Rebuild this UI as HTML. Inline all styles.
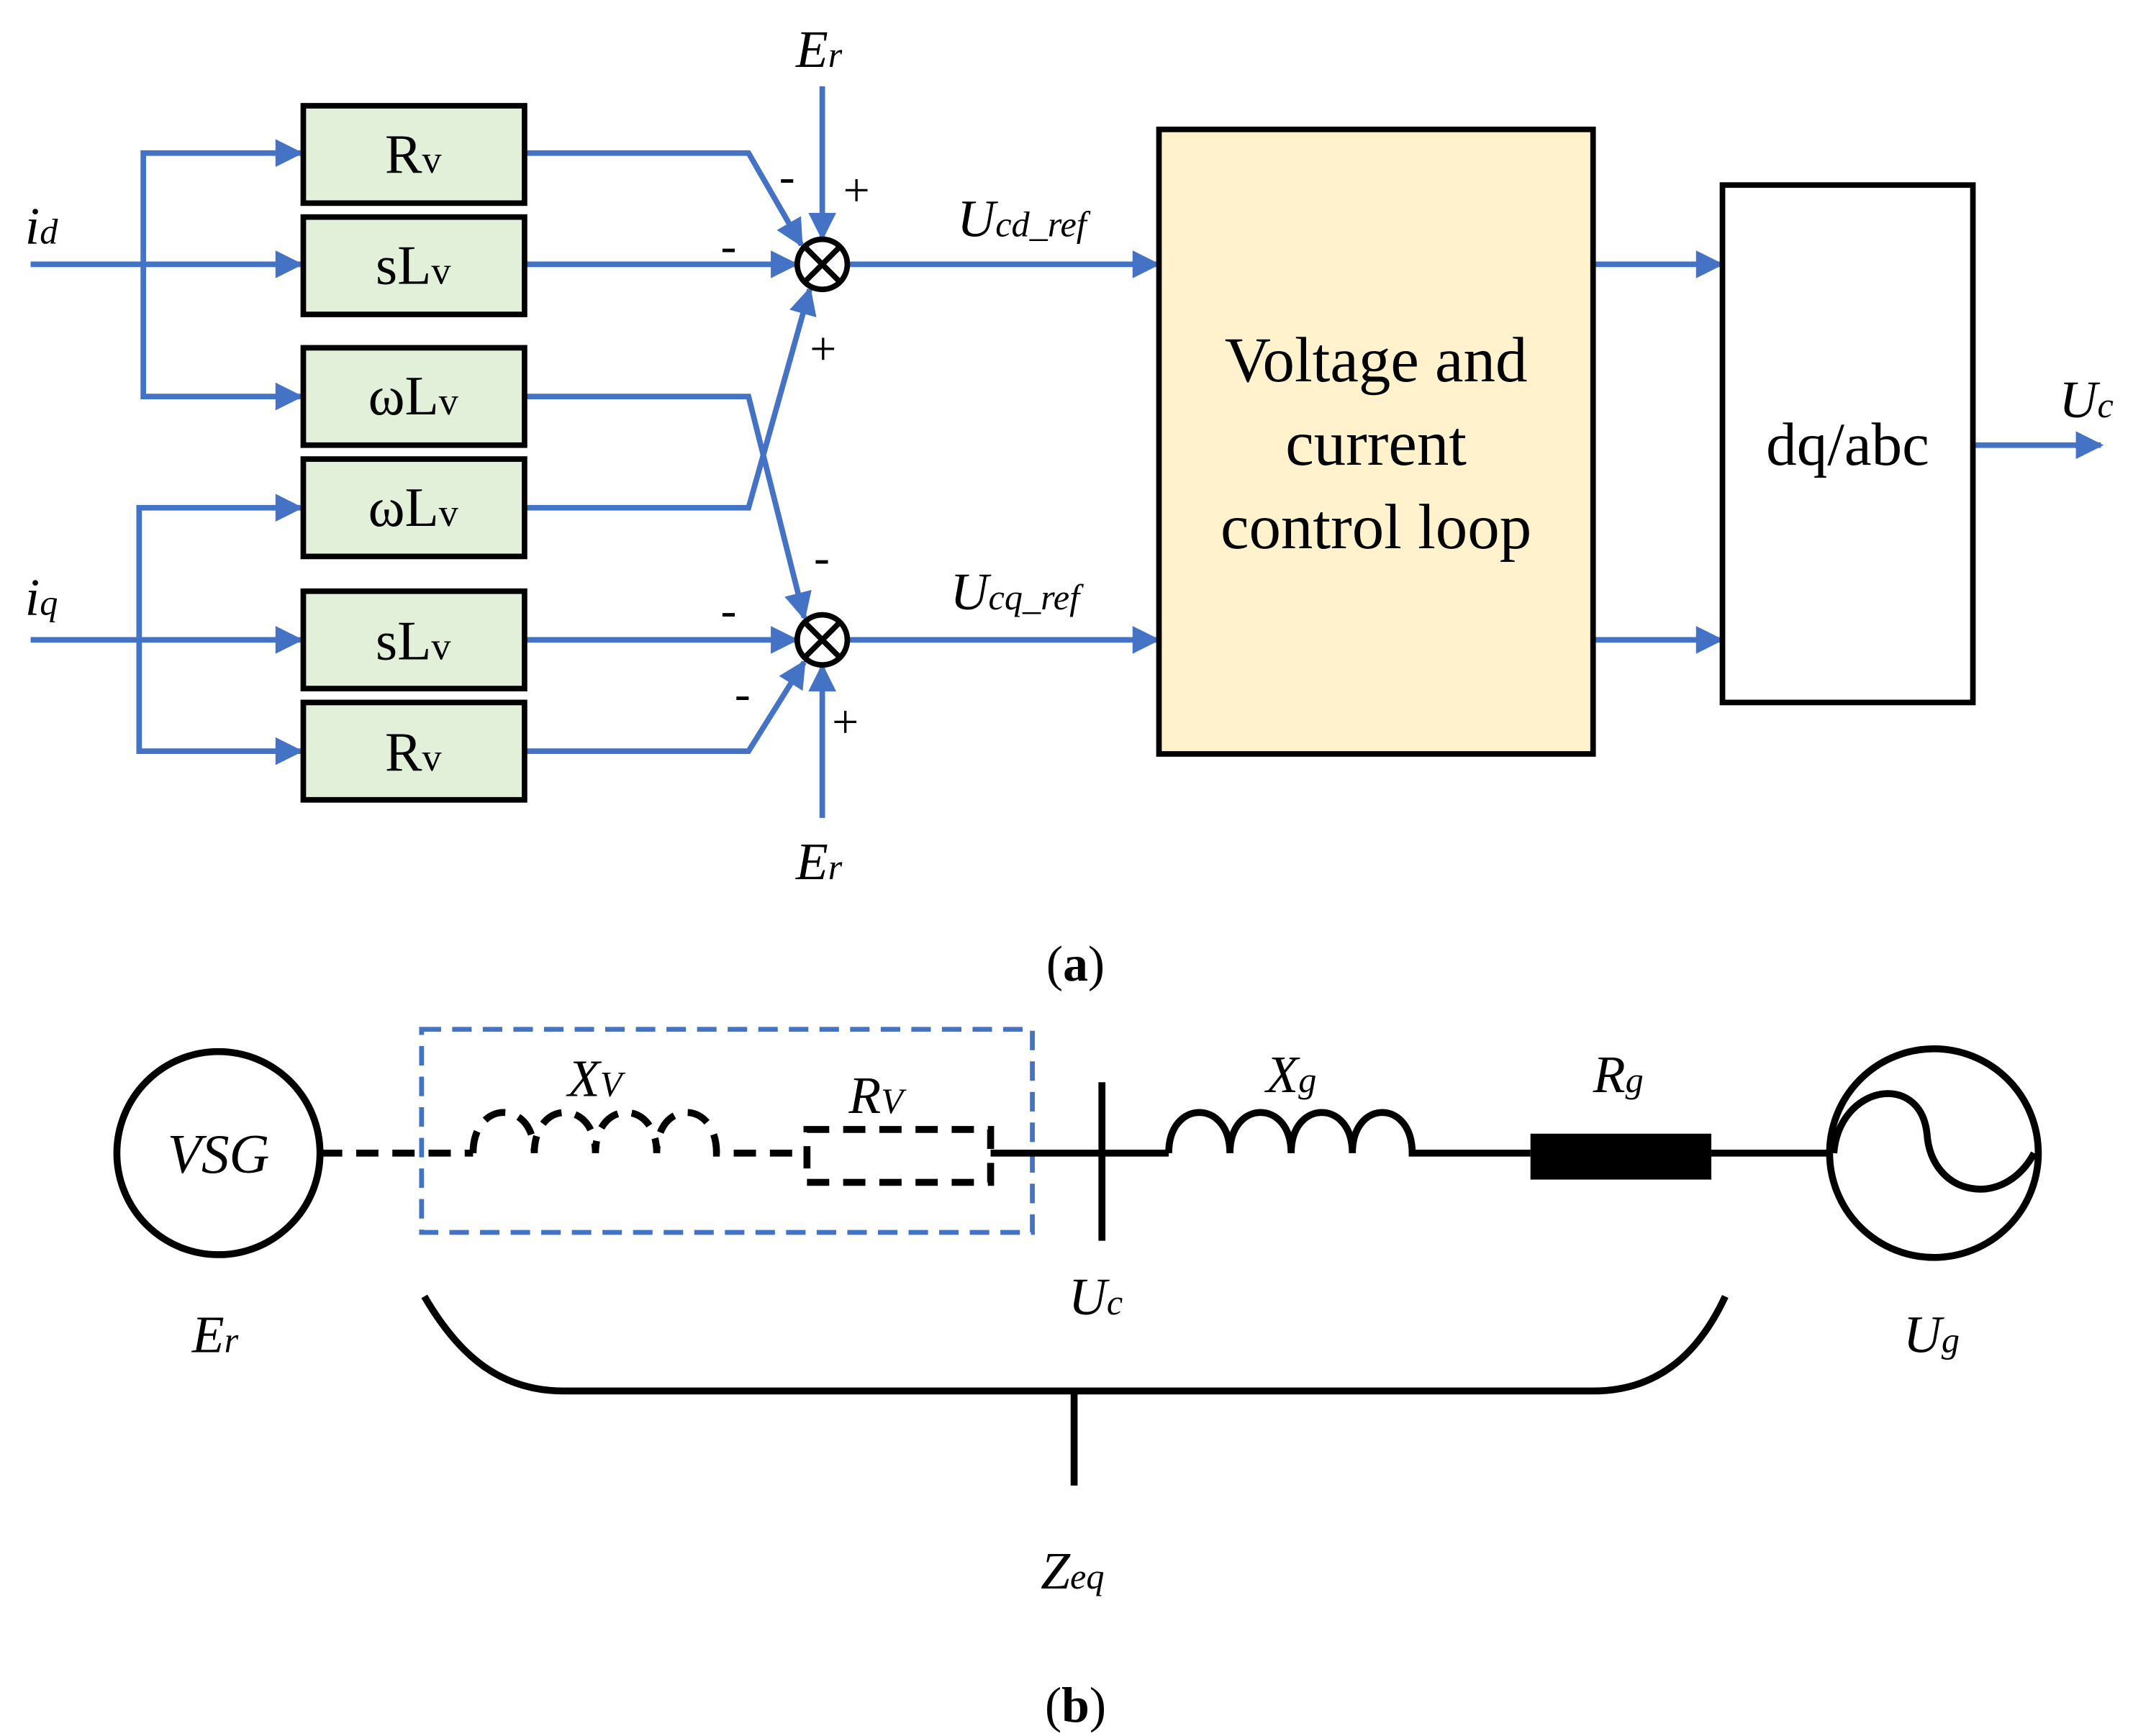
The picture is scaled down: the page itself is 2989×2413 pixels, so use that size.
<!DOCTYPE html>
<html><head><meta charset="utf-8"><style>html,body{margin:0;padding:0;background:#fff}svg{display:block}</style></head>
<body>
<svg width="2989" height="2413" viewBox="0 0 1546 1248" xmlns="http://www.w3.org/2000/svg" font-family="Liberation Serif, serif">
<defs>
<marker id="ar" viewBox="0 0 10 10" refX="9" refY="5" markerWidth="24" markerHeight="20" markerUnits="userSpaceOnUse" orient="auto"><path d="M0,0 L10,5 L0,10 z" fill="#4472c4"/></marker>
</defs>
<g stroke="#4472c4" stroke-width="4" fill="none" marker-end="url(#ar)">
<line x1="22" y1="190" x2="216" y2="190"/>
<polyline points="103,190 103,110 216,110"/>
<polyline points="103,190 103,285 216,285"/>
<line x1="22" y1="460" x2="216" y2="460"/>
<polyline points="100,460 100,365 216,365"/>
<polyline points="100,460 100,540 216,540"/>
<polyline points="377,110 538,110 576,176"/>
<line x1="377" y1="190" x2="572" y2="190"/>
<polyline points="377,285 538,285 578,444"/>
<polyline points="377,365 538,365 582,208"/>
<line x1="377" y1="460" x2="572" y2="460"/>
<polyline points="377,540 538,540 578,476"/>
<line x1="591" y1="62" x2="591" y2="171"/>
<line x1="591" y1="588" x2="591" y2="479"/>
<line x1="609" y1="190" x2="832" y2="190"/>
<line x1="609" y1="460" x2="832" y2="460"/>
<line x1="1145" y1="190" x2="1237" y2="190"/>
<line x1="1145" y1="460" x2="1237" y2="460"/>
<line x1="1418" y1="320" x2="1510" y2="320"/>
</g>
<g stroke="#000" stroke-width="4" fill="#e2efd9">
<rect x="218" y="76" width="159" height="70"/>
<rect x="218" y="156" width="159" height="70"/>
<rect x="218" y="250" width="159" height="70"/>
<rect x="218" y="330" width="159" height="70"/>
<rect x="218" y="425" width="159" height="70"/>
<rect x="218" y="505" width="159" height="70"/>
<rect x="833" y="93" width="312" height="449" fill="#fff2cc"/>
<rect x="1238" y="133" width="180" height="372" fill="#fff"/>
</g>
<g stroke="#000" stroke-width="4" fill="#fff">
<circle cx="591" cy="190" r="18"/><path d="M578,177 L604,203 M604,177 L578,203"/>
<circle cx="591" cy="460" r="18"/><path d="M578,447 L604,473 M604,447 L578,473"/>
</g>
<g font-size="40" text-anchor="middle" fill="#000">
<text x="297" y="124">R<tspan font-size="28">v</tspan></text>
<text x="297" y="204">sL<tspan font-size="28">v</tspan></text>
<text x="297" y="298">ωL<tspan font-size="28">v</tspan></text>
<text x="297" y="378">ωL<tspan font-size="28">v</tspan></text>
<text x="297" y="474">sL<tspan font-size="28">v</tspan></text>
<text x="297" y="554">R<tspan font-size="28">v</tspan></text>
<text x="989" y="274" font-size="46">Voltage and</text>
<text x="989" y="334" font-size="46">current</text>
<text x="989" y="394" font-size="46">control loop</text>
<text x="1328" y="334" font-size="44">dq/abc</text>
</g>
<g font-size="38" font-style="italic" fill="#000">
<text x="572" y="48">E<tspan font-size="26">r</tspan></text>
<text x="572" y="632">E<tspan font-size="26">r</tspan></text>
<text x="18" y="175">i<tspan font-size="26">d</tspan></text>
<text x="18" y="442">i<tspan font-size="26">q</tspan></text>
<text x="688" y="170">U<tspan font-size="26">cd_ref</tspan></text>
<text x="683" y="438">U<tspan font-size="26">cq_ref</tspan></text>
<text x="1480" y="300">U<tspan font-size="26">c</tspan></text>
</g>
<g font-size="34" fill="#000">
<text x="560" y="138">-</text><text x="606" y="148">+</text>
<text x="518" y="188">-</text><text x="582" y="262">+</text>
<text x="585" y="412">-</text><text x="518" y="450">-</text>
<text x="528" y="510">-</text><text x="598" y="530">+</text>
</g>
<text x="773" y="705" font-size="36" text-anchor="middle">(<tspan font-weight="bold">a</tspan>)</text>
<text x="773" y="1238" font-size="36" text-anchor="middle">(<tspan font-weight="bold">b</tspan>)</text>
<rect x="303" y="740" width="439" height="146" fill="none" stroke="#4472c4" stroke-width="3.5" stroke-dasharray="14,8"/>
<g stroke="#000" stroke-width="5" fill="none">
<circle cx="157" cy="829" r="73"/>
<circle cx="1390" cy="829" r="75"/>
<path d="M1318,829 C1322,780 1380,770 1385,815 C1388,860 1440,870 1462,829"/>
<g stroke-dasharray="16,10">
<line x1="230" y1="829" x2="340" y2="829"/>
<path d="M340,829 C340,790 384,790 384,829 C384,790 428,790 428,829 C428,790 472,790 472,829 C472,790 515,790 515,829 L580,829"/>
<rect x="580" y="812" width="132" height="38"/>
</g>
<line x1="712" y1="829" x2="840" y2="829"/>
<line x1="792" y1="778" x2="792" y2="892"/>
<path d="M840,829 C840,790 884,790 884,829 C884,790 928,790 928,829 C928,790 972,790 972,829 C972,790 1015,790 1015,829 L1100,829"/>
<line x1="1230" y1="829" x2="1316" y2="829"/>
<path d="M305,932 C330,975 360,1000 405,1000 L1145,1000 C1190,1000 1220,975 1240,932"/>
<line x1="772" y1="1000" x2="772" y2="1068"/>
</g>
<rect x="1100" y="815" width="130" height="33" fill="#000"/>
<g font-size="38" font-style="italic" fill="#000">
<text x="157" y="843" text-anchor="middle" font-size="40">VSG</text>
<text x="138" y="972">E<tspan font-size="26">r</tspan></text>
<text x="408" y="788">X<tspan font-size="26">V</tspan></text>
<text x="610" y="800">R<tspan font-size="26">V</tspan></text>
<text x="910" y="785">X<tspan font-size="26">g</tspan></text>
<text x="1145" y="785">R<tspan font-size="26">g</tspan></text>
<text x="768" y="945">U<tspan font-size="26">c</tspan></text>
<text x="1368" y="972">U<tspan font-size="26">g</tspan></text>
<text x="748" y="1142">Z<tspan font-size="26">eq</tspan></text>
</g>
</svg>
</body></html>
